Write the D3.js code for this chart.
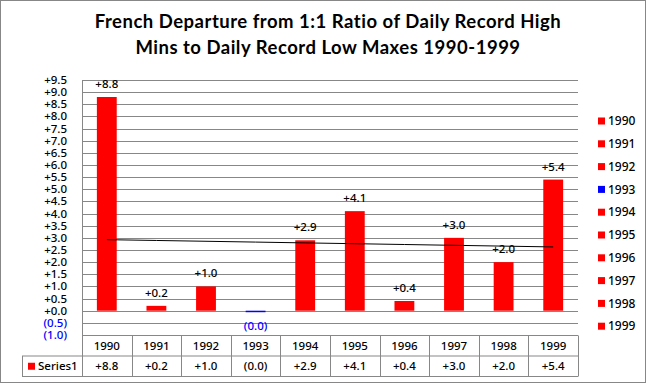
<!DOCTYPE html>
<html>
<head>
<meta charset="utf-8">
<script src="https://cdn.jsdelivr.net/npm/d3@7"></script>
<style>
  body { margin: 0; background: #fff; }
  svg { display: block; }
  .tick text { font-family: "Noto Sans", sans-serif; font-size: 11.5px; font-weight: 500; }
</style>
</head>
<body>
<div id="chart"></div>
<script>
// Chart data
const years = ["1990", "1991", "1992", "1993", "1994", "1995", "1996", "1997", "1998", "1999"];
const departures = [8.8, 0.2, 1.0, -0.04, 2.9, 4.1, 0.4, 3.0, 2.0, 5.4];
const yTicks = [-1.0, -0.5, 0.0, 0.5, 1.0, 1.5, 2.0, 2.5, 3.0, 3.5, 4.0, 4.5, 5.0,
  5.5, 6.0, 6.5, 7.0, 7.5, 8.0, 8.5, 9.0, 9.5];
const titleLines = ["French Departure from 1:1 Ratio of Daily Record High",
  "Mins to Daily Record Low Maxes 1990-1999"];
const seriesName = "Series1";

const width = 647, height = 384;
const plot = { left: 82, right: 578, top: 80, bottom: 335 };
const rowH = 20.5;
const gridColor = "#878787";
const font = "'Noto Sans', sans-serif";

// format like Excel: +x.x / (x.x)
const fmt = v => v >= 0 ? "+" + v.toFixed(1) : "(" + Math.abs(v).toFixed(1) + ")";
const colorOf = v => v < 0 ? "#0000ff" : "#ff0000";

const svg = d3.select("#chart").append("svg")
  .attr("width", width)
  .attr("height", height);

// outer border
svg.append("rect")
  .attr("x", 0.5).attr("y", 0.5)
  .attr("width", 645).attr("height", 382)
  .attr("fill", "#fff")
  .attr("stroke", gridColor);

// title
svg.append("text")
  .attr("x", 328)
  .attr("font-family", "Lato, sans-serif")
  .attr("font-weight", "bold")
  .attr("font-size", 18.5)
  .attr("letter-spacing", 0.5)
  .attr("text-anchor", "middle")
  .selectAll("tspan")
  .data(titleLines)
  .join("tspan")
  .attr("x", 328)
  .attr("y", (d, i) => 28 + i * 26)
  .text(d => d);

// scales
const x = d3.scaleBand().domain(years).range([plot.left, plot.right]).padding(0);
const y = d3.scaleLinear().domain([-1, 9.5]).range([plot.bottom, plot.top]);
const bw = x.bandwidth();

// gridlines
svg.append("g")
  .selectAll("line")
  .data(yTicks)
  .join("line")
  .attr("x1", plot.left).attr("x2", plot.right)
  .attr("y1", d => Math.round(y(d)) + 0.5)
  .attr("y2", d => Math.round(y(d)) + 0.5)
  .attr("stroke", gridColor);

// y axis
const yAxis = svg.append("g")
  .attr("transform", `translate(${plot.left},0)`)
  .call(d3.axisLeft(y).tickValues(yTicks).tickFormat(fmt).tickSize(0).tickPadding(15));
yAxis.select(".domain").remove();
yAxis.selectAll(".tick").attr("transform", d => `translate(0,${Math.round(y(d)) + 0.5})`);
yAxis.selectAll(".tick text")
  .attr("fill", d => d < 0 ? "#0000ff" : "#000");

// bars
svg.append("g")
  .selectAll("rect")
  .data(departures)
  .join("rect")
  .attr("x", (d, i) => x(years[i]) + bw * 0.3)
  .attr("width", bw * 0.4)
  .attr("y", d => y(Math.max(0, d)))
  .attr("height", d => Math.max(1.5, Math.abs(y(d) - y(0))))
  .attr("fill", colorOf);

// data labels
svg.append("g")
  .selectAll("text")
  .data(departures)
  .join("text")
  .attr("x", (d, i) => x(years[i]) + bw / 2)
  .attr("y", d => d >= 0 ? y(d) - 13 : y(0) + 15)
  .attr("dy", "0.35em")
  .attr("text-anchor", "middle")
  .attr("font-family", font)
  .attr("font-weight", 500)
  .attr("font-size", 11.5)
  .attr("fill", d => d < 0 ? "#0000ff" : "#000")
  .text(fmt);

// linear trendline
const n = departures.length;
const xs = d3.range(1, n + 1);
const mx = d3.mean(xs), my = d3.mean(departures);
const slope = d3.sum(xs, (v, i) => (v - mx) * (departures[i] - my)) / d3.sum(xs, v => (v - mx) ** 2);
const trend = xs.map(v => my + slope * (v - mx));
svg.append("path")
  .datum(trend)
  .attr("d", d3.line().x((d, i) => x(years[i]) + bw / 2).y(d => y(d)))
  .attr("fill", "none")
  .attr("stroke", "#000")
  .attr("stroke-width", 1);

// left axis line (continues through the data table)
const tableTop = Math.round(y(-1)) + 0.5;
const row1 = tableTop + rowH;
const row2 = row1 + rowH;
svg.append("line")
  .attr("x1", plot.left + 0.5).attr("x2", plot.left + 0.5)
  .attr("y1", Math.round(y(9.5)) + 0.5).attr("y2", row2)
  .attr("stroke", gridColor);

// data table
const table = svg.append("g").attr("stroke", gridColor);
table.append("line").attr("x1", 22).attr("x2", plot.right).attr("y1", row1).attr("y2", row1);
table.append("line").attr("x1", 22).attr("x2", plot.right).attr("y1", row2).attr("y2", row2);
table.append("line").attr("x1", 22.5).attr("x2", 22.5).attr("y1", row1).attr("y2", row2);
table.selectAll("line.col")
  .data(years)
  .join("line")
  .attr("class", "col")
  .attr("x1", d => Math.round(x(d) + bw) + 0.5)
  .attr("x2", d => Math.round(x(d) + bw) + 0.5)
  .attr("y1", tableTop).attr("y2", row2);

svg.append("g")
  .selectAll("text")
  .data(years)
  .join("text")
  .attr("x", d => x(d) + bw / 2)
  .attr("y", tableTop + rowH / 2)
  .attr("dy", "0.35em")
  .attr("text-anchor", "middle")
  .attr("font-family", font)
  .attr("font-weight", 500)
  .attr("font-size", 11.5)
  .text(d => d);

svg.append("g")
  .selectAll("text")
  .data(departures)
  .join("text")
  .attr("x", (d, i) => x(years[i]) + bw / 2)
  .attr("y", row1 + rowH / 2)
  .attr("dy", "0.35em")
  .attr("text-anchor", "middle")
  .attr("font-family", font)
  .attr("font-weight", 500)
  .attr("font-size", 11.5)
  .text(fmt);

svg.append("rect")
  .attr("x", 28).attr("y", row1 + rowH / 2 - 3.5)
  .attr("width", 7).attr("height", 7)
  .attr("fill", "#ff0000");
svg.append("text")
  .attr("x", 38)
  .attr("y", row1 + rowH / 2)
  .attr("dy", "0.35em")
  .attr("font-family", font)
  .attr("font-weight", 500)
  .attr("font-size", 11.5)
  .text(seriesName);

// legend on the right
const legend = svg.append("g")
  .selectAll("g")
  .data(years)
  .join("g")
  .attr("transform", (d, i) => `translate(598,${121 + i * 22.8})`);
legend.append("rect")
  .attr("x", 0).attr("y", -3.5)
  .attr("width", 7).attr("height", 7)
  .attr("fill", (d, i) => colorOf(departures[i]));
legend.append("text")
  .attr("x", 10)
  .attr("dy", "0.35em")
  .attr("font-family", font)
  .attr("font-weight", 500)
  .attr("font-size", 12)
  .text(d => d);
</script>
</body>
</html>
